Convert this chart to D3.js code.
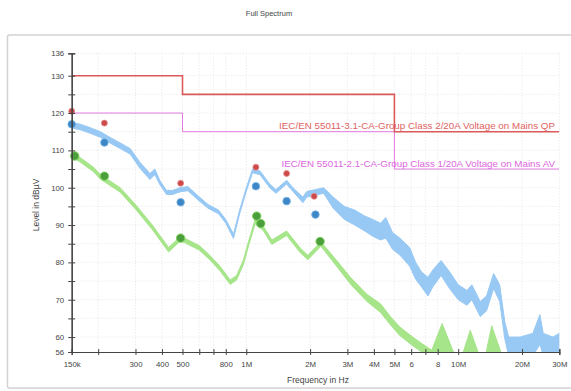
<!DOCTYPE html>
<html>
<head>
<meta charset="utf-8">
<script src="https://cdn.jsdelivr.net/npm/d3@7"></script>
<style>
  html, body { margin: 0; padding: 0; background: #fff; }
  svg { display: block; font-family: "Liberation Sans", Arial, sans-serif; }
</style>
</head>
<body>
<svg id="chart" width="571" height="391"></svg>
<script>
// ---------------- data (frequency in MHz, level in dBµV) ----------------
const chartTitle = "Full Spectrum";
const xTitle = "Frequency in Hz";
const yTitle = "Level in dBµV";

const xTickValues = [0.15, 0.2, 0.3, 0.4, 0.5, 0.6, 0.7, 0.8, 1, 2, 3, 4, 5, 6, 7, 8, 10, 20, 30];
const xTickLabels = ["150k", "", "300", "400", "500", "", "", "800", "1M", "2M", "3M", "4M", "5M", "6", "", "8", "10M", "20M", "30M"];
const yTickValues = [56, 60, 65, 70, 75, 80, 85, 90, 95, 100, 105, 110, 115, 120, 125, 130, 136];
const yTickLabels = ["56", "60", "", "70", "", "80", "", "90", "", "100", "", "110", "", "120", "", "130", "136"];

// limit lines (step functions)
const qpLimitFreq = [0.15, 0.5, 0.5, 5, 5, 30];
const qpLimitLevel = [130, 130, 125, 125, 115, 115];
const avLimitFreq = [0.15, 0.5, 0.5, 5, 5, 30];
const avLimitLevel = [120, 120, 115, 115, 105, 105];
const qpLimitName = "IEC/EN 55011-3.1-CA-Group Class 2/20A Voltage on Mains QP";
const avLimitName = "IEC/EN 55011-2.1-CA-Group Class 1/20A Voltage on Mains AV";

// peak trace (band: max / min)
const peakFreq = [0.15, 0.165, 0.185, 0.205, 0.227, 0.254, 0.283, 0.315, 0.351, 0.37, 0.392, 0.42, 0.45, 0.487, 0.53, 0.59, 0.66, 0.74, 0.8, 0.87, 0.93, 1.0, 1.07, 1.16, 1.29, 1.38, 1.55, 1.66, 1.85, 1.93, 2.12, 2.32, 2.57, 2.9, 3.25, 3.6, 3.95, 4.3, 4.55, 4.9, 5.3, 5.9, 6.3, 6.7, 7.2, 7.6, 8.3, 9.1, 10.0, 11.0, 11.6, 12.7, 13.6, 14.7, 15.7, 16.6, 17.3, 19.6, 22.5, 24.3, 25.2, 28, 30];
const peakMax = [117.5, 117.0, 116.0, 115.0, 113.5, 112.0, 110.5, 106.8, 103.8, 105.0, 101.8, 99.3, 99.3, 100.0, 100.3, 97.9, 95.5, 94.0, 91.5, 87.6, 94.0, 100.0, 105.0, 104.5, 101.0, 99.5, 102.0, 100.0, 97.5, 99.0, 99.5, 100.0, 97.5, 95.0, 94.0, 92.5, 91.5, 90.5, 92.0, 88.0, 86.5, 84.0, 80.0, 77.5, 76.0, 78.0, 80.5, 77.5, 74.0, 72.5, 74.0, 69.5, 71.0, 77.0, 74.0, 64.0, 60.0, 60.0, 61.0, 66.0, 61.0, 60.0, 61.0];
const peakMin = [116.0, 115.5, 114.5, 113.5, 112.0, 110.5, 109.0, 105.2, 102.2, 103.5, 100.7, 98.2, 98.2, 98.9, 99.2, 96.8, 94.5, 93.0, 90.5, 86.4, 93.0, 99.0, 104.0, 103.5, 100.0, 98.5, 101.0, 99.0, 96.0, 97.5, 98.0, 98.5, 94.5, 91.5, 90.0, 88.5, 87.0, 86.0, 86.5, 83.5, 82.0, 79.0, 75.5, 73.5, 71.0, 73.5, 76.5, 73.0, 70.0, 68.5, 70.0, 65.5, 67.0, 73.0, 69.5, 59.5, 55.0, 55.0, 55.0, 58.0, 55.0, 55.0, 55.0];

// average trace (band: max / min)
const avgFreq = [0.15, 0.165, 0.19, 0.205, 0.254, 0.30, 0.36, 0.43, 0.49, 0.60, 0.67, 0.75, 0.84, 0.90, 0.97, 1.02, 1.1, 1.2, 1.32, 1.55, 1.8, 1.95, 2.25, 2.6, 3.1, 3.7, 4.3, 4.8, 5.3, 6.1, 6.8, 7.5, 8.4, 9.5, 10.5, 11.4, 12.5, 13.5, 14.4, 16.0, 18.0];
const avgMax = [109.5, 108.0, 105.5, 103.5, 100.0, 95.5, 90.0, 84.0, 87.0, 84.5, 82.0, 79.0, 75.3, 76.5, 80.7, 85.2, 91.5, 89.8, 86.0, 88.4, 83.8, 81.9, 85.5, 81.3, 76.0, 71.5, 68.9, 65.4, 62.7, 60.0, 58.1, 56.5, 63.6, 56.0, 55.5, 61.8, 55.5, 55.5, 63.0, 55.5, 55.0];
const avgMin = [108.3, 106.8, 104.3, 102.3, 98.8, 94.3, 88.8, 82.8, 85.8, 83.3, 80.8, 77.8, 74.1, 75.3, 79.5, 84.0, 90.3, 88.6, 84.8, 87.2, 82.6, 80.7, 84.3, 79.8, 74.2, 69.6, 66.6, 63.2, 60.4, 57.7, 55.8, 54.0, 54.0, 54.0, 54.0, 54.0, 54.0, 54.0, 54.0, 54.0, 54.0];

// final measurement markers
const qpMarkFreq = [0.15, 0.214, 0.49, 1.11, 1.55, 2.09];
const qpMarkLevel = [120.5, 117.3, 101.2, 105.5, 103.8, 97.7];
const pkMarkFreq = [0.15, 0.214, 0.49, 1.11, 1.55, 2.12];
const pkMarkLevel = [117.0, 112.1, 96.1, 100.4, 96.4, 92.8];
const avMarkFreq = [0.155, 0.214, 0.49, 1.12, 1.17, 2.23];
const avMarkLevel = [108.5, 103.1, 86.5, 92.4, 90.4, 85.6];

// ---------------- drawing ----------------
const svg = d3.select("#chart");
const pLeft = 71.7, pRight = 559.3, pTop = 53.3, pBottom = 352;

const x = d3.scaleLog().domain([0.15, 30]).range([pLeft, pRight]);
const y = d3.scaleLinear().domain([56, 136]).range([pBottom, pTop]);

// panel frame
svg.append("rect").attr("x", 7.5).attr("y", 35).attr("width", 575).attr("height", 353)
  .attr("fill", "none").attr("stroke", "#d2d2d2").attr("stroke-width", 1.5).attr("rx", 2);

// title
svg.append("text").attr("x", 269).attr("y", 16).attr("text-anchor", "middle")
  .attr("font-size", 7.5).attr("fill", "#444").text(chartTitle);

// grid
const grid = svg.append("g");
grid.selectAll("line.vx").data(xTickValues.slice(1)).join("line")
  .attr("x1", d => x(d)).attr("x2", d => x(d)).attr("y1", pTop).attr("y2", pBottom)
  .attr("stroke", "#dadada").attr("stroke-width", 0.7).attr("stroke-dasharray", "1,2");
grid.selectAll("line.hy").data(yTickValues.slice(1)).join("line")
  .attr("x1", pLeft).attr("x2", pRight).attr("y1", d => y(d)).attr("y2", d => y(d))
  .attr("stroke", "#dadada").attr("stroke-width", 0.7).attr("stroke-dasharray", "1,2");

// clip
svg.append("clipPath").attr("id", "plotclip").append("rect")
  .attr("x", pLeft).attr("y", pTop - 2).attr("width", pRight - pLeft).attr("height", pBottom - pTop + 2);
const plot = svg.append("g").attr("clip-path", "url(#plotclip)");

// bands
const band = (fr, hi, lo) => d3.area()
  .x((d, i) => x(fr[i])).y0((d, i) => y(lo[i])).y1((d, i) => y(hi[i]))(fr);
plot.append("path").attr("d", band(peakFreq, peakMax, peakMin))
  .attr("fill", "#98c9f4").attr("stroke", "#98c9f4").attr("stroke-width", 1).attr("stroke-linejoin", "round");
plot.append("path").attr("d", band(avgFreq, avgMax, avgMin))
  .attr("fill", "#a6e58a").attr("stroke", "#a6e58a").attr("stroke-width", 1).attr("stroke-linejoin", "round");

// limit lines
const stepLine = (fr, lv) => d3.line().x((d, i) => x(fr[i])).y((d, i) => y(lv[i]))(fr);
plot.append("path").attr("d", stepLine(avLimitFreq, avLimitLevel))
  .attr("fill", "none").attr("stroke", "#e27ae2").attr("stroke-width", 1);
plot.append("path").attr("d", stepLine(qpLimitFreq, qpLimitLevel))
  .attr("fill", "none").attr("stroke", "#dc5a5a").attr("stroke-width", 1.6);

// limit labels
svg.append("text").attr("x", 555).attr("y", y(115) - 2.5).attr("text-anchor", "end")
  .attr("font-size", 9.8).attr("fill", "#e06262").text(qpLimitName);
svg.append("text").attr("x", 555).attr("y", y(105) - 2.5).attr("text-anchor", "end")
  .attr("font-size", 9.8).attr("fill", "#dd66dd").text(avLimitName);

// markers
const marks = svg.append("g");
marks.selectAll("circle.av").data(avMarkFreq).join("circle")
  .attr("cx", (d, i) => x(d)).attr("cy", (d, i) => y(avMarkLevel[i])).attr("r", 4.2)
  .attr("fill", "#4a9e3c").attr("stroke", "#7fd060").attr("stroke-width", 1);
marks.selectAll("circle.pk").data(pkMarkFreq).join("circle")
  .attr("cx", (d, i) => x(d)).attr("cy", (d, i) => y(pkMarkLevel[i])).attr("r", 3.8)
  .attr("fill", "#3d87c6").attr("stroke", "#7ab4e4").attr("stroke-width", 0.8);
marks.selectAll("circle.qp").data(qpMarkFreq).join("circle")
  .attr("cx", (d, i) => x(d)).attr("cy", (d, i) => y(qpMarkLevel[i])).attr("r", 3)
  .attr("fill", "#cc4a4a").attr("stroke", "#e68a8a").attr("stroke-width", 0.8);

// axes
const xAxis = d3.axisBottom(x).tickValues(xTickValues)
  .tickFormat((d, i) => xTickLabels[i]).tickSize(3).tickPadding(6);
svg.append("g").attr("transform", `translate(0,${pBottom})`).call(xAxis);
svg.append("g").attr("transform", `translate(0,${pBottom})`)
  .call(d3.axisTop(x).tickValues(xTickValues).tickFormat("").tickSize(3));

const yAxis = d3.axisLeft(y).tickValues(yTickValues)
  .tickFormat((d, i) => yTickLabels[i]).tickSize(3.5).tickPadding(4);
svg.append("g").attr("transform", `translate(${pLeft},0)`).call(yAxis);
svg.append("g").attr("transform", `translate(${pLeft},0)`)
  .call(d3.axisRight(y).tickValues(yTickValues).tickFormat("").tickSize(3.5));

svg.selectAll(".domain").attr("stroke", "#444").attr("stroke-width", 1.2);
svg.selectAll(".tick line").attr("stroke", "#444");
svg.selectAll(".tick text").attr("font-size", 7.8).attr("fill", "#444")
  .attr("font-family", "Liberation Sans, Arial, sans-serif");

// axis titles
svg.append("text").attr("x", 318).attr("y", 383).attr("text-anchor", "middle")
  .attr("font-size", 8.5).attr("fill", "#444").text(xTitle);
svg.append("text").attr("transform", "translate(39,205) rotate(-90)").attr("text-anchor", "middle")
  .attr("font-size", 8.5).attr("fill", "#444").text(yTitle);
</script>
</body>
</html>
